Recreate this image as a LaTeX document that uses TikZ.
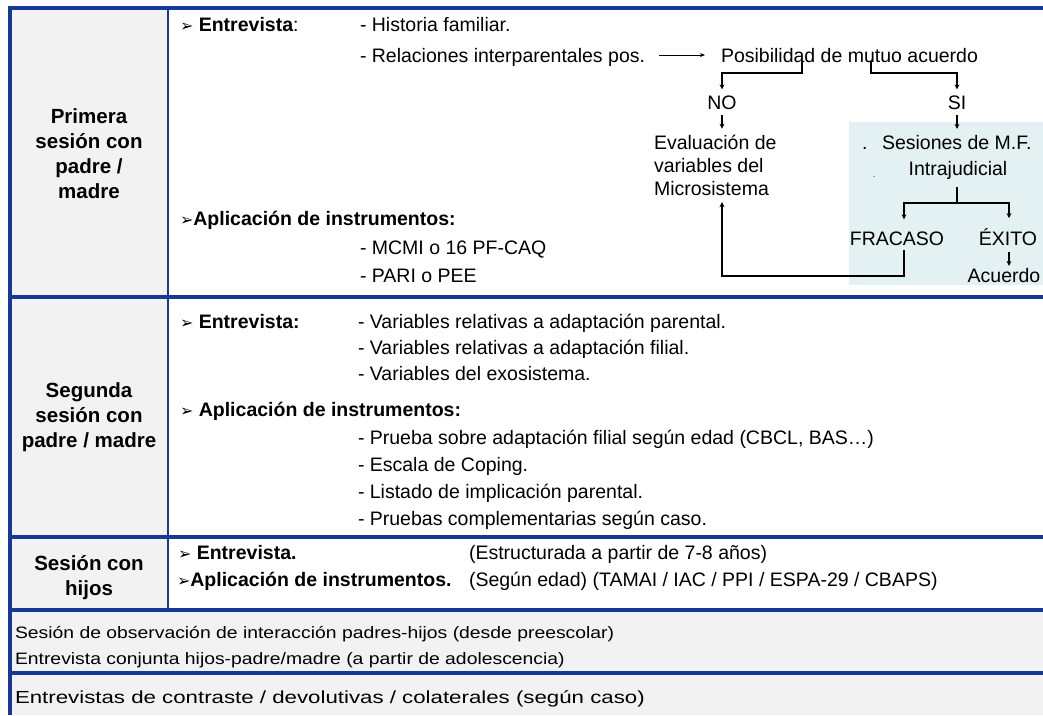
\documentclass[tikz,border=0pt]{standalone}
\usepackage{fontspec}
\setmainfont{Liberation Sans}
\newfontfamily\symfont{DejaVu Sans}
\usetikzlibrary{arrows.meta}
\definecolor{tblblue}{RGB}{24,56,152}
\definecolor{cellgray}{RGB}{242,242,242}
\definecolor{mfteal}{RGB}{228,241,242}
\tikzset{
  txt/.style={anchor=base west, inner sep=0pt, outer sep=0pt, font=\fontsize{19.5}{23}\selectfont},
  ctxt/.style={anchor=base, inner sep=0pt, outer sep=0pt, font=\fontsize{19.5}{23}\selectfont},
  wide/.style={anchor=base west, inner sep=0pt, outer sep=0pt, font=\fontsize{16.5}{20}\selectfont\addfontfeature{FakeStretch=1.173}},
  wider/.style={anchor=base west, inner sep=0pt, outer sep=0pt, font=\fontsize{17.5}{20}\selectfont\addfontfeature{FakeStretch=1.272}},
  head/.style={align=center, inner sep=0pt, font=\bfseries\fontsize{20.5}{25}\selectfont},
  rulew/.style={draw=tblblue, line width=3.5pt},
  conn/.style={line width=1.6pt},
  arr/.style={conn, -{Stealth[length=5pt,width=5pt]}},
  thinarr/.style={line width=1pt, -{Stealth[length=5pt,width=4pt]}},
}
\newcommand{\bul}{{\symfont\fontsize{16}{16}\selectfont ➢}}
\begin{document}
\begin{tikzpicture}[x=1pt,y=-1pt]
\useasboundingbox (0,0) rectangle (1043,715);
% fills
\fill[white] (0,0) rectangle (1043,715);
\fill[cellgray] (10,8) rectangle (168,610);
\fill[cellgray] (10,610) rectangle (1043,715);
\fill[mfteal] (849,122) rectangle (1043,285);
% rules
\draw[rulew] (8.25,8) -- (1043,8);
\draw[rulew] (8.25,297) -- (1043,297);
\draw[rulew] (8.25,537) -- (1043,537);
\draw[rulew] (8.25,610) -- (1043,610);
\draw[rulew] (8.25,673) -- (1043,673);
\draw[rulew] (10,6) -- (10,715);
\draw[draw=tblblue, line width=2.5pt] (168,8) -- (168,610);

% left headers
\node[head] (h1) at (89,154) {Primera\\sesión con\\padre /\\madre};
\node[head] (h2) at (89,417) {Segunda\\sesión con\\padre / madre};
\node[head] (h3) at (89,578) {Sesión con\\hijos};

% row 1
\node[txt] (e1) at (180,31) {\bul\ \textbf{Entrevista}:};
\node[txt] (hist) at (360,31) {- Historia familiar.};
\node[txt] (rel) at (360,62) {- Relaciones interparentales pos.};
\node[txt] (pos) at (721,62) {Posibilidad de mutuo acuerdo};
\node[ctxt] (no) at (722,109) {NO};
\node[ctxt] (si) at (957,109) {SI};
\node[txt] (ev1) at (654,149) {Evaluación de};
\node[txt] (ev2) at (654,172) {variables del};
\node[txt] (ev3) at (654,195) {Microsistema};
\node[txt] (dot1) at (862,149) {.};
\node[txt] (ses) at (882,149) {Sesiones de M.F.};
\node[ctxt] (intra) at (958,175) {Intrajudicial};
\node[txt, font=\fontsize{8}{8}\selectfont] (dot2) at (873,177) {.};
\node[txt] (a1) at (180,225) {\bul\textbf{Aplicación de instrumentos:}};
\node[txt] (mcmi) at (360,254) {- MCMI o 16 PF-CAQ};
\node[txt] (pari) at (360,282) {- PARI o PEE};
\node[ctxt] (fra) at (897,245) {FRACASO};
\node[ctxt] (exi) at (1008,245) {ÉXITO};
\node[ctxt] (acu) at (1004,282) {Acuerdo};

% connectors row 1
\coordinate (bl) at (802,73);
\coordinate (br) at (871,73);
\coordinate (ib) at (957,203);
\coordinate (fb) at (904,276);
\coordinate (eb) at (1009,203);
\draw[thinarr] ([xshift=14pt]rel.east |- pos.west) -- ([xshift=-16pt]pos.west);
\draw[arr, shorten <=-1pt, shorten >=6pt] (pos.south -| bl) -- (bl) -| (no.north);
\draw[arr, shorten <=-1pt, shorten >=6pt] (pos.south -| br) -- (br) -| (si.north);
\draw[arr, shorten <=6pt, shorten >=6pt] (no.south) -- (no.south |- ev1.north);
\draw[arr, shorten <=6pt, shorten >=6pt] (si.south) -- (si.south |- ses.north);
\draw[conn, shorten <=8pt] (intra.south -| ib) -- (ib);
\draw[arr, shorten >=12pt] (ib) -| (fra.north -| fb);
\draw[arr, shorten >=10pt] (ib) -- (eb) -- (eb |- exi.north);
\draw[arr, shorten <=7pt, shorten >=2pt] (exi.south -| eb) -- (eb |- acu.north);
\draw[arr, shorten <=5pt] (fra.south -| fb) -- (fb) -| ([yshift=-7pt]ev3.south -| no.south);

% row 2
\node[txt] (e2) at (180,328) {\bul\ \textbf{Entrevista:}};
\node[txt] (v1) at (358,328) {- Variables relativas a adaptación parental.};
\node[txt] (v2) at (358,354) {- Variables relativas a adaptación filial.};
\node[txt] (v3) at (358,380) {- Variables del exosistema.};
\node[txt] (a2) at (180,416) {\bul\ \textbf{Aplicación de instrumentos:}};
\node[txt] (i1) at (358,444) {- Prueba sobre adaptación filial según edad (CBCL, BAS…)};
\node[txt] (i2) at (358,471) {- Escala de Coping.};
\node[txt] (i3) at (358,498) {- Listado de implicación parental.};
\node[txt] (i4) at (358,525) {- Pruebas complementarias según caso.};

% row 3
\node[txt] (e3) at (178,559) {\bul\ \textbf{Entrevista.}};
\node[txt] (e3b) at (469,559) {(Estructurada a partir de 7-8 años)};
\node[txt] (a3) at (177,586) {\bul\textbf{Aplicación de instrumentos.}};
\node[txt] (a3b) at (469,586) {(Según edad) (TAMAI / IAC / PPI / ESPA-29 / CBAPS)};

% rows 4-5
\node[wide] (r4a) at (15,638) {Sesión de observación de interacción padres-hijos (desde preescolar)};
\node[wide] (r4b) at (15,664) {Entrevista conjunta hijos-padre/madre (a partir de adolescencia)};
\node[wider] (r5) at (15,703) {Entrevistas de contraste / devolutivas / colaterales (según caso)};
\end{tikzpicture}
\end{document}
